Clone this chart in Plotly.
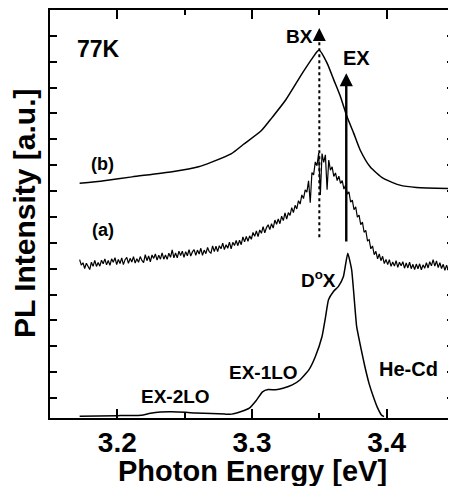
import plotly.graph_objects as go

# ---------------- data ----------------
# curve (b)
energy_b = [3.172, 3.19, 3.211, 3.2407, 3.2603, 3.27, 3.2848, 3.2935, 3.3068, 3.315, 3.325,
            3.3373, 3.345, 3.3498, 3.3559, 3.3608, 3.3657, 3.3706, 3.3755, 3.3804,
            3.3877, 3.3976, 3.4098, 3.4221, 3.4485]
intensity_b = [8.30, 8.40, 8.55, 8.75, 8.94, 9.12, 9.45, 9.8, 10.33, 10.85, 11.52,
               12.55, 13.15, 13.45, 12.93, 12.29, 11.65, 10.87, 10.24, 9.58,
               8.94, 8.49, 8.23, 8.14, 8.10]

# curve (a): measured on a 0.00125 eV grid starting at 3.172 eV
a_start, a_step = 3.172, 0.00125
intensity_a = [
    5.35, 5.14, 5.23, 5.01, 5.21, 5.07, 4.97, 5.25, 5.09, 5.32,
    5.09, 5.24, 5.10, 5.33, 5.19, 5.38, 5.15, 5.32, 5.13, 5.38,
    5.25, 5.43, 5.16, 5.36, 5.20, 5.42, 5.16, 5.35, 5.44, 5.21,
    5.40, 5.26, 5.47, 5.22, 5.39, 5.25, 5.47, 5.32, 5.24, 5.54,
    5.31, 5.49, 5.27, 5.53, 5.40, 5.57, 5.33, 5.52, 5.37, 5.61,
    5.37, 5.53, 5.36, 5.60, 5.44, 5.73, 5.42, 5.61, 5.42, 5.68,
    5.51, 5.68, 5.44, 5.66, 5.50, 5.74, 5.49, 5.65, 5.74, 5.52,
    5.72, 5.57, 5.79, 5.52, 5.72, 5.58, 5.82, 5.66, 5.60, 5.88,
    5.66, 5.87, 5.66, 5.89, 5.77, 5.99, 5.74, 5.93, 5.79, 6.03,
    5.77, 6.02, 5.90, 6.09, 5.89, 6.10, 5.93, 6.23, 6.04, 6.25,
    6.06, 6.27, 6.14, 6.40, 6.25, 6.46, 6.24, 6.50, 6.37, 6.63,
    6.39, 6.59, 6.70, 6.51, 6.74, 6.57, 6.88, 6.72, 6.92, 6.74,
    7.03, 6.86, 7.16, 6.92, 7.17, 7.06, 7.36, 7.17, 7.45, 7.31,
    7.63, 7.50, 7.85, 7.71, 8.05, 7.96, 8.40, 7.55, 8.72, 8.63,
    9.13, 8.98, 9.47, 7.85, 9.45, 9.11, 9.40, 8.05, 9.20, 8.81,
    8.94, 8.57, 8.70, 8.41, 8.58, 8.30, 8.41, 8.08, 8.23, 7.88,
    7.97, 7.57, 7.65, 7.28, 7.39, 6.99, 7.07, 6.70, 6.80, 6.41,
    6.48, 6.08, 6.12, 5.77, 5.88, 5.54, 5.67, 5.38, 5.57, 5.31,
    5.48, 5.20, 5.36, 5.16, 5.35, 5.09, 5.26, 5.10, 5.31, 5.05,
    5.25, 5.11, 5.27, 5.02, 5.22, 5.03, 5.25, 5.00, 5.17, 4.97,
    5.18, 5.00, 5.19, 4.96, 5.15, 5.02, 5.23, 5.03, 5.27, 5.11,
    5.35, 5.10, 5.30, 5.04, 5.23, 5.01, 5.17, 4.94, 5.14, 4.94,
    5.09]
energy_a = [round(a_start + i * a_step, 5) for i in range(len(intensity_a))]

# curve (c): He-Cd excitation
energy_c = [3.172, 3.20, 3.218, 3.2235, 3.232, 3.24, 3.2507, 3.258, 3.27, 3.28, 3.285,
            3.292, 3.298, 3.303, 3.3078, 3.312, 3.3176, 3.323, 3.3299, 3.336, 3.3422,
            3.347, 3.352, 3.3545, 3.3568, 3.3605, 3.3642, 3.3679, 3.3711, 3.374,
            3.3777, 3.381, 3.3838, 3.387, 3.39, 3.393, 3.3961, 3.398]
intensity_c = [-0.70, -0.68, -0.66, -0.60, -0.54, -0.53, -0.55, -0.58, -0.60, -0.62, -0.62,
               -0.52, -0.39, -0.10, 0.24, 0.33, 0.32, 0.38, 0.51, 0.72, 1.09,
               1.6, 2.38, 3.1, 3.8, 4.12, 4.32, 4.70, 5.60, 4.96,
               2.77, 1.9, 1.22, 0.55, 0.07, -0.35, -0.65, -0.72]

# marker energies
bx_energy, bx_low, bx_tip = 3.35, 6.22, 14.3
ex_energy, ex_low, ex_tip = 3.37, 5.99, 12.56

x_ticks = [3.2, 3.3, 3.4]
x_labels = ["3.2", "3.3", "3.4"]

FONT = "Liberation Sans, Arial, sans-serif"

fig = go.Figure()
fig.add_trace(go.Scatter(x=energy_b, y=intensity_b, mode="lines",
                         line=dict(color="black", width=1.5, shape="spline", smoothing=0.6),
                         hoverinfo="skip"))
fig.add_trace(go.Scatter(x=energy_a, y=intensity_a, mode="lines",
                         line=dict(color="black", width=1.2), hoverinfo="skip"))
fig.add_trace(go.Scatter(x=energy_c, y=intensity_c, mode="lines",
                         line=dict(color="black", width=1.5, shape="spline", smoothing=0.4),
                         hoverinfo="skip"))

# BX dotted marker line
fig.add_shape(type="line", x0=bx_energy, x1=bx_energy, y0=bx_low, y1=bx_tip - 0.4,
              xref="x", yref="y", line=dict(color="black", width=2, dash="dot"))
fig.add_annotation(x=bx_energy, y=bx_tip, ax=bx_energy, ay=bx_tip - 0.45,
                   xref="x", yref="y", axref="x", ayref="y", text="", showarrow=True,
                   arrowhead=2, arrowsize=1.3, arrowwidth=2, arrowcolor="black")
# EX solid arrow
fig.add_annotation(x=ex_energy, y=ex_tip, ax=ex_energy, ay=ex_low,
                   xref="x", yref="y", axref="x", ayref="y", text="", showarrow=True,
                   arrowhead=2, arrowsize=1.1, arrowwidth=2.4, arrowcolor="black")

labels = [
    ("77K", 3.186, 13.51, 23),
    ("(b)", 3.1893, 9.06, 18),
    ("(a)", 3.1893, 6.51, 18),
    ("BX", 3.3353, 13.97, 19),
    ("EX", 3.3776, 13.16, 20),
    ("D<sup>o</sup>X", 3.3493, 4.60, 19),
    ("EX-1LO", 3.3085, 0.97, 19),
    ("He-Cd", 3.4162, 1.14, 20),
    ("EX-2LO", 3.2434, 0.06, 19),
]
for t, x, y, s in labels:
    fig.add_annotation(x=x, y=y, xref="x", yref="y", text="<b>%s</b>" % t, showarrow=False,
                       font=dict(family=FONT, size=s, color="black"),
                       xanchor="center", yanchor="middle")

# axis titles
fig.add_annotation(x=0.5, y=0, xref="paper", yref="paper", yshift=-53,
                   text="<b>Photon Energy [eV]</b>", showarrow=False,
                   font=dict(family=FONT, size=29, color="black"),
                   xanchor="center", yanchor="middle")
fig.add_annotation(x=0, y=0.5, xref="paper", yref="paper", xshift=-26, yshift=0,
                   text="<b>PL Intensity [a.u.]</b>", showarrow=False, textangle=-90,
                   font=dict(family=FONT, size=30, color="black"),
                   xanchor="center", yanchor="middle")

# the page body adds an 8 px offset, so the figure is 8 px smaller and margins shifted
fig.update_layout(
    width=448, height=478,
    margin=dict(l=42, r=0, t=2, b=68),
    paper_bgcolor="white", plot_bgcolor="white",
    showlegend=False,
    font=dict(family=FONT, color="black"),
    xaxis=dict(range=[3.15, 3.45], tickvals=x_ticks, ticktext=x_labels,
               ticks="inside", ticklen=9, tickwidth=1.5, tickcolor="black",
               showline=True, linewidth=2, linecolor="black", mirror="ticks",
               showgrid=False, zeroline=False, ticklabelstandoff=-2,
               tickfont=dict(family=FONT, size=28, color="black", weight="bold"),
               minor=dict(tickvals=[3.25, 3.35], ticks="inside", ticklen=5,
                          tickwidth=1.5, tickcolor="black", showgrid=False)),
    yaxis=dict(range=[-0.77, 15.0], tick0=0, dtick=1,
               ticks="inside", ticklen=7, tickwidth=1.5, tickcolor="black",
               showline=True, linewidth=2, linecolor="black", mirror="ticks",
               showgrid=False, zeroline=False, showticklabels=False),
)

fig.write_html("out.html")
